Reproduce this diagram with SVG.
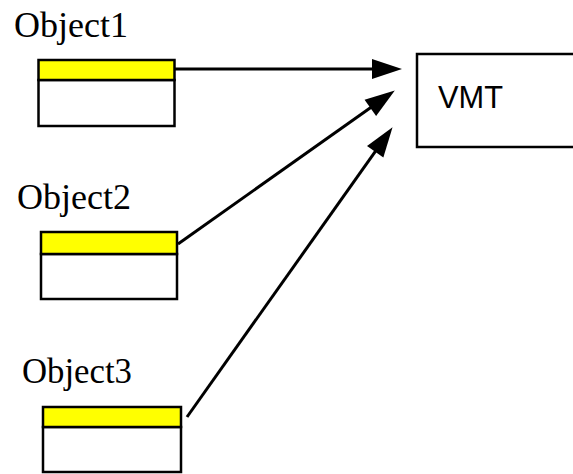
<svg xmlns="http://www.w3.org/2000/svg" width="573" height="474" viewBox="0 0 573 474">
<defs>
<style>
.lbl{font-family:"Liberation Serif","Times New Roman",serif;font-size:35px;fill:#000}
.vmt{font-family:"Liberation Sans",Arial,sans-serif;font-size:32px;fill:#000}
.hdr{fill:#ffff00;stroke:#000;stroke-width:2.5}
.body{fill:#fff;stroke:#000;stroke-width:2.5}
.conn{fill:none;stroke:#000;stroke-width:3}
</style>
<marker id="ah" markerUnits="userSpaceOnUse" markerWidth="36" markerHeight="24" viewBox="-5 -12 36 24" refX="4" refY="0" orient="auto">
<path d="M0,-10 L30,0 L0,10 z" fill="#000"/>
</marker>
</defs>
<rect width="573" height="474" fill="#fff"/>
<g id="connectors">
<path class="conn" d="M175,69 L376,69" marker-end="url(#ah)"/>
<path class="conn" d="M178,244 L373.6,105.5" marker-end="url(#ah)"/>
<path class="conn" d="M187,417 L377.5,148.4" marker-end="url(#ah)"/>
</g>
<g id="object1">
<text class="lbl" x="14" y="37" textLength="114" lengthAdjust="spacingAndGlyphs">Object1</text>
<rect class="body" x="38.5" y="80" width="136" height="46"/>
<rect class="hdr" x="38.5" y="60" width="136" height="20"/>
</g>
<g id="object2">
<text class="lbl" x="17" y="209" textLength="114" lengthAdjust="spacingAndGlyphs">Object2</text>
<rect class="body" x="41" y="254" width="136" height="45"/>
<rect class="hdr" x="41" y="232" width="136" height="22"/>
</g>
<g id="object3">
<text class="lbl" x="22" y="383" textLength="110" lengthAdjust="spacingAndGlyphs">Object3</text>
<rect class="body" x="43" y="427" width="138" height="45"/>
<rect class="hdr" x="43" y="407" width="138" height="20"/>
</g>
<g id="vmt">
<rect class="body" x="417" y="54" width="170" height="93"/>
<text class="vmt" x="438" y="108" textLength="65" lengthAdjust="spacingAndGlyphs">VMT</text>
</g>
</svg>
